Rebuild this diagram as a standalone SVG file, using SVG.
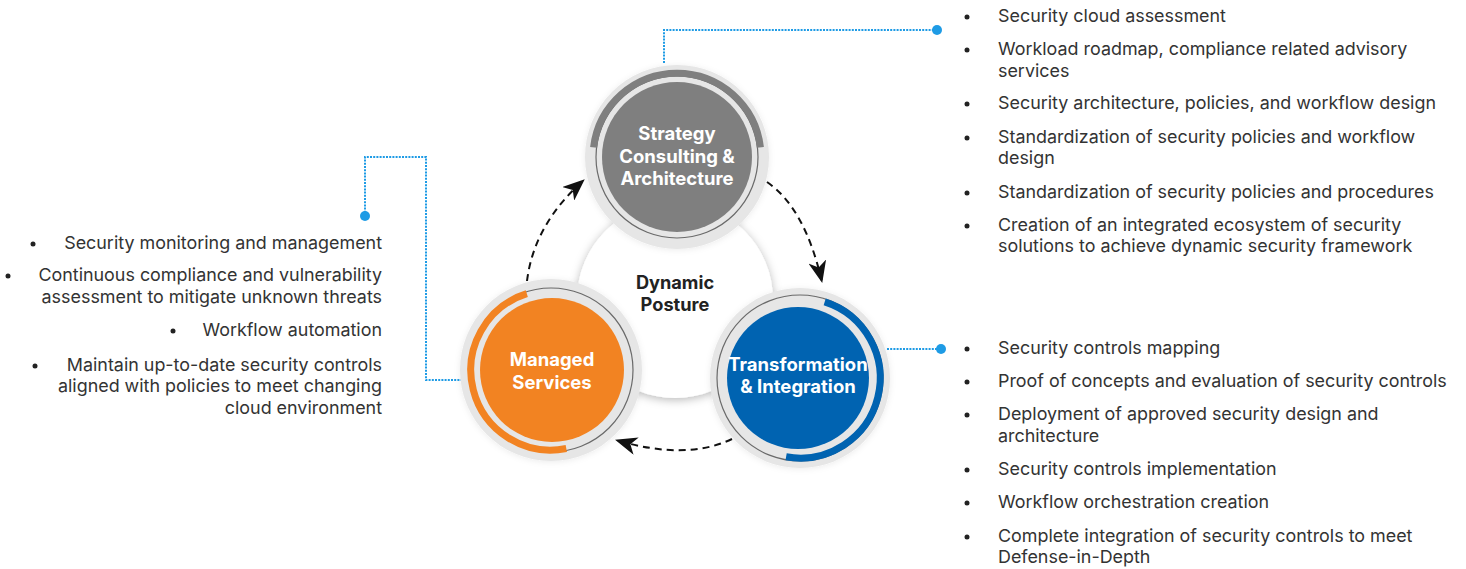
<svg xmlns="http://www.w3.org/2000/svg" width="1466" height="569" viewBox="0 0 1466 569">
<style>
.body{font-family:Inter,"Liberation Sans",sans-serif;font-size:17.9px;fill:#333}
.lab{font-family:Inter,"Liberation Sans",sans-serif;font-size:18.5px;font-weight:700;fill:#fff;text-anchor:middle}
.ctr{font-family:Inter,"Liberation Sans",sans-serif;font-size:18.2px;font-weight:700;fill:#222;text-anchor:middle}
.ring{fill:#e6e6e6}
.thin{fill:none;stroke:#6a6a6a;stroke-width:1.2}
.band{fill:none;stroke-width:7}
.dash{fill:none;stroke:#111;stroke-width:2;stroke-dasharray:7 5}
.dot{fill:none;stroke:#1e9be5;stroke-width:2;stroke-dasharray:2 1.2}
.pin{fill:#1e9be5}
.bul{fill:#222}
</style>
<defs>
<filter id="sh" x="-20%" y="-20%" width="140%" height="140%">
<feDropShadow dx="0" dy="2" stdDeviation="5" flood-color="#000" flood-opacity="0.28"/>
</filter>
<filter id="sh2" x="-20%" y="-20%" width="140%" height="140%">
<feDropShadow dx="0" dy="1" stdDeviation="3" flood-color="#000" flood-opacity="0.08"/>
</filter>
<marker id="ah" markerUnits="userSpaceOnUse" markerWidth="22" markerHeight="18" viewBox="0 0 22 18" refX="21" refY="9" orient="auto">
<path d="M0,0 L22,9 L0,18 L6,9 z" fill="#111"/>
</marker>
</defs>

<g id="center">
<circle cx="675" cy="300" r="98" fill="#fff" filter="url(#sh)"/>
<text class="ctr" x="675" y="289">Dynamic</text>
<text class="ctr" x="675" y="311">Posture</text>
</g>

<g id="connectors">
<path class="dash" d="M527,281 Q534,224 584,180" marker-end="url(#ah)"/>
<path class="dash" d="M767,182 Q805,208 822,282" marker-end="url(#ah)"/>
<path class="dash" d="M732,439 Q686,461 616,440" marker-end="url(#ah)"/>
<path class="dot" d="M664,63 V30 H937"/>
<circle class="pin" cx="937" cy="30" r="5"/>
<path class="dot" d="M365,216 V157 H426 V380 H461"/>
<circle class="pin" cx="365" cy="216" r="5"/>
<path class="dot" d="M887,349 H941"/>
<circle class="pin" cx="941" cy="349" r="5"/>
</g>

<g id="strategy">
<circle class="ring" cx="677" cy="157" r="92" filter="url(#sh2)"/>
<circle class="thin" cx="677" cy="157" r="81"/>
<path class="band" stroke="#7f7f7f" d="M593.6,147.3 A84,84 0 0 1 760.4,147.3"/>
<circle cx="677" cy="157" r="75" fill="#7f7f7f"/>
<text class="lab" x="677" y="140">Strategy</text>
<text class="lab" x="677" y="163">Consulting &amp;</text>
<text class="lab" x="677" y="185">Architecture</text>
</g>

<g id="managed">
<circle class="ring" cx="551" cy="370" r="91" filter="url(#sh2)"/>
<circle class="thin" cx="551" cy="370" r="82"/>
<path class="band" stroke="#f28322" d="M566.3,448.5 A80,80 0 0 1 526.8,293.7"/>
<circle cx="552" cy="370" r="72" fill="#f28322"/>
<text class="lab" x="552" y="366">Managed</text>
<text class="lab" x="552" y="389">Services</text>
</g>

<g id="transformation">
<circle class="ring" cx="800" cy="378" r="90" filter="url(#sh2)"/>
<circle class="thin" cx="800" cy="378" r="83"/>
<path class="band" stroke="#0063b1" d="M824.7,301.9 A80,80 0 0 1 786.1,456.8"/>
<circle cx="798" cy="378" r="71" fill="#0063b1"/>
<text class="lab" x="798" y="371">Transformation</text>
<text class="lab" x="798" y="393">&amp; Integration</text>
</g>

<g id="list-strategy">
<circle class="bul" cx="967" cy="17" r="2.5"/>
<text class="body" x="998" y="22">Security cloud assessment</text>
<circle class="bul" cx="967" cy="50" r="2.5"/>
<text class="body" x="998" y="55">Workload roadmap, compliance related advisory</text>
<text class="body" x="998" y="77">services</text>
<circle class="bul" cx="967" cy="104" r="2.5"/>
<text class="body" x="998" y="109">Security architecture, policies, and workflow design</text>
<circle class="bul" cx="967" cy="138" r="2.5"/>
<text class="body" x="998" y="143">Standardization of security policies and workflow</text>
<text class="body" x="998" y="164">design</text>
<circle class="bul" cx="967" cy="193" r="2.5"/>
<text class="body" x="998" y="198">Standardization of security policies and procedures</text>
<circle class="bul" cx="967" cy="226" r="2.5"/>
<text class="body" x="998" y="231">Creation of an integrated ecosystem of security</text>
<text class="body" x="998" y="252">solutions to achieve dynamic security framework</text>
</g>

<g id="list-transformation">
<circle class="bul" cx="967" cy="349" r="2.5"/>
<text class="body" x="998" y="354">Security controls mapping</text>
<circle class="bul" cx="967" cy="382" r="2.5"/>
<text class="body" x="998" y="387">Proof of concepts and evaluation of security controls</text>
<circle class="bul" cx="967" cy="415" r="2.5"/>
<text class="body" x="998" y="420">Deployment of approved security design and</text>
<text class="body" x="998" y="442">architecture</text>
<circle class="bul" cx="967" cy="470" r="2.5"/>
<text class="body" x="998" y="475">Security controls implementation</text>
<circle class="bul" cx="967" cy="503" r="2.5"/>
<text class="body" x="998" y="508">Workflow orchestration creation</text>
<circle class="bul" cx="967" cy="537" r="2.5"/>
<text class="body" x="998" y="542">Complete integration of security controls to meet</text>
<text class="body" x="998" y="563">Defense-in-Depth</text>
</g>

<g id="list-managed" text-anchor="end">
<circle class="bul" cx="33" cy="244" r="2.5"/>
<text class="body" x="382" y="249">Security monitoring and management</text>
<circle class="bul" cx="8" cy="276" r="2.5"/>
<text class="body" x="382" y="281">Continuous compliance and vulnerability</text>
<text class="body" x="382" y="303">assessment to mitigate unknown threats</text>
<circle class="bul" cx="173" cy="331" r="2.5"/>
<text class="body" x="382" y="336">Workflow automation</text>
<circle class="bul" cx="35" cy="366" r="2.5"/>
<text class="body" x="382" y="371">Maintain up-to-date security controls</text>
<text class="body" x="382" y="392">aligned with policies to meet changing</text>
<text class="body" x="382" y="414">cloud environment</text>
</g>
</svg>
